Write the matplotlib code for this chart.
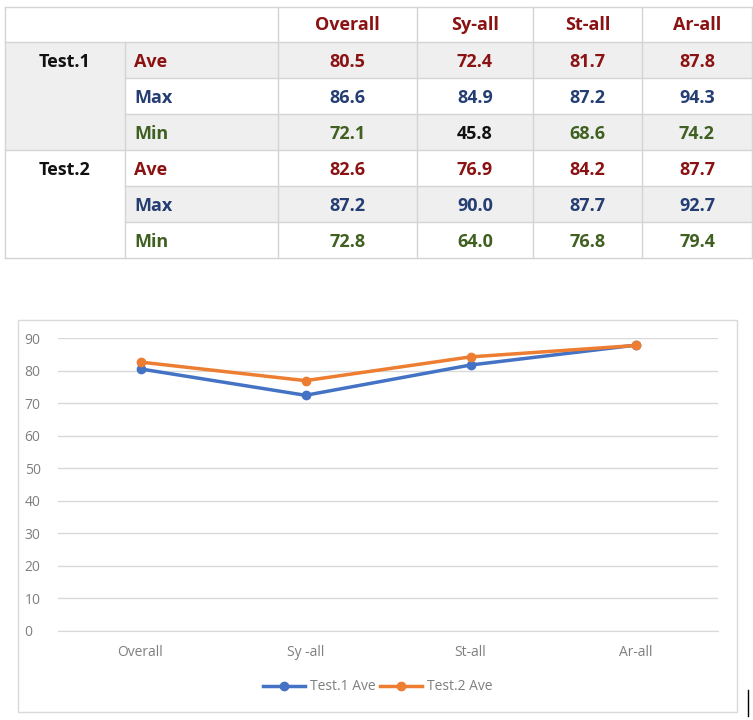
import matplotlib
matplotlib.use("Agg")
import matplotlib.pyplot as plt
from matplotlib.patches import Rectangle

categories = ["Overall", "Sy-all", "St-all", "Ar-all"]
chart_labels = ["Overall", "Sy -all", "St-all", "Ar-all"]
tests = ["Test.1", "Test.2"]
stats = ["Ave", "Max", "Min"]
test1 = {"Ave": [80.5, 72.4, 81.7, 87.8],
         "Max": [86.6, 84.9, 87.2, 94.3],
         "Min": [72.1, 45.8, 68.6, 74.2]}
test2 = {"Ave": [82.6, 76.9, 84.2, 87.7],
         "Max": [87.2, 90.0, 87.7, 92.7],
         "Min": [72.8, 64.0, 76.8, 79.4]}

W, H = 753, 720
fig = plt.figure(figsize=(W / 100, H / 100), dpi=100)
plt.rcParams["font.family"] = ["Open Sans", "DejaVu Sans"]

def px_axes(x0, y0, x1, y1):
    return fig.add_axes([x0 / W, 1 - y1 / H, (x1 - x0) / W, (y1 - y0) / H])

# ---- table ----
tab = fig.add_axes([0, 0, 1, 1])
tab.set_xlim(0, W)
tab.set_ylim(H, 0)
tab.axis("off")

col_x = [5, 125, 278, 417, 533, 642, 752]
row_y = [7, 42, 78, 114, 150, 186, 222, 258]
grey = "#efefef"
line = "#d4d4d4"
stat_colors = {"Ave": "#8b1212", "Max": "#243d73", "Min": "#3f6020"}
fs = 13

# shading
shaded = {0: [True, False, True], 1: [False, True, False]}
for t in range(2):
    for s in range(3):
        r = 1 + t * 3 + s
        if shaded[t][s]:
            tab.add_patch(Rectangle((col_x[1], row_y[r]), col_x[-1] - col_x[1],
                                    row_y[r + 1] - row_y[r], color=grey, lw=0))
tab.add_patch(Rectangle((col_x[0], row_y[1]), col_x[1] - col_x[0],
                        row_y[4] - row_y[1], color=grey, lw=0))

# grid lines
for y in row_y:
    x0 = col_x[0] if y in (row_y[0], row_y[1], row_y[4], row_y[-1]) else col_x[1]
    tab.plot([x0, col_x[-1]], [y, y], color=line, lw=1)
for i, x in enumerate(col_x):
    y0 = row_y[0] if i in (0, 2, 3, 4, 5, 6) else row_y[1]
    tab.plot([x, x], [y0, row_y[-1]], color=line, lw=1)

for j, c in enumerate(categories):
    tab.text((col_x[j + 2] + col_x[j + 3]) / 2, (row_y[0] + row_y[1]) / 2 + 1, c,
             ha="center", va="center", fontsize=fs, fontweight="bold", color="#8b1212")
for t, (name, data) in enumerate([("Test.1", test1), ("Test.2", test2)]):
    ry = row_y[1 + t * 3]
    tab.text((col_x[0] + col_x[1]) / 2, ry + 20, name, ha="center", va="center",
             fontsize=fs, fontweight="bold", color="#111111")
    for s, st in enumerate(stats):
        r = 1 + t * 3 + s
        yc = (row_y[r] + row_y[r + 1]) / 2 + 2
        tab.text(col_x[1] + 9, yc, st, ha="left", va="center", fontsize=fs,
                 fontweight="bold", color=stat_colors[st])
        for j, v in enumerate(data[st]):
            col = stat_colors[st]
            if name == "Test.1" and st == "Min" and j == 1:
                col = "#111111"
            tab.text((col_x[j + 2] + col_x[j + 3]) / 2, yc, f"{v:.1f}", ha="center",
                     va="center", fontsize=fs, fontweight="bold", color=col)

# chart frame
tab.add_patch(Rectangle((18, 320), 719, 392, fill=False, ec="#d9d9d9", lw=1))
tab.plot([748, 748], [690, 716], color="black", lw=1)

# ---- line chart ----
ax = px_axes(58, 338, 718, 631)
x = range(len(categories))
ax.plot(x, test1["Ave"], color="#4472c4", lw=2.5, marker="o", ms=6, label="Test.1 Ave")
ax.plot(x, test2["Ave"], color="#ed7d31", lw=2.5, marker="o", ms=6, label="Test.2 Ave")
ax.set_xlim(-0.5, 3.5)
ax.set_ylim(0, 90)
ax.set_yticks(range(0, 91, 10))
ax.set_xticks(list(x))
ax.set_xticklabels(chart_labels)
ax.grid(axis="y", color="#d9d9d9", lw=1)
ax.set_axisbelow(True)
for sp in ["top", "right", "left"]:
    ax.spines[sp].set_visible(False)
ax.spines["bottom"].set_color("#d9d9d9")
ax.tick_params(length=0, colors="#7f7f7f", labelsize=10)
ax.tick_params(axis="x", pad=10)
ax.tick_params(axis="y", pad=24)
for lbl in ax.get_yticklabels():
    lbl.set_horizontalalignment("left")
ax.legend(loc="center", bbox_to_anchor=((378 - 58) / 660, (631 - 687) / 293), ncol=2,
          frameon=False, fontsize=10, labelcolor="#7f7f7f", handlelength=3,
          columnspacing=0.3, handletextpad=0.4)

fig.savefig("out.png", dpi=100)
